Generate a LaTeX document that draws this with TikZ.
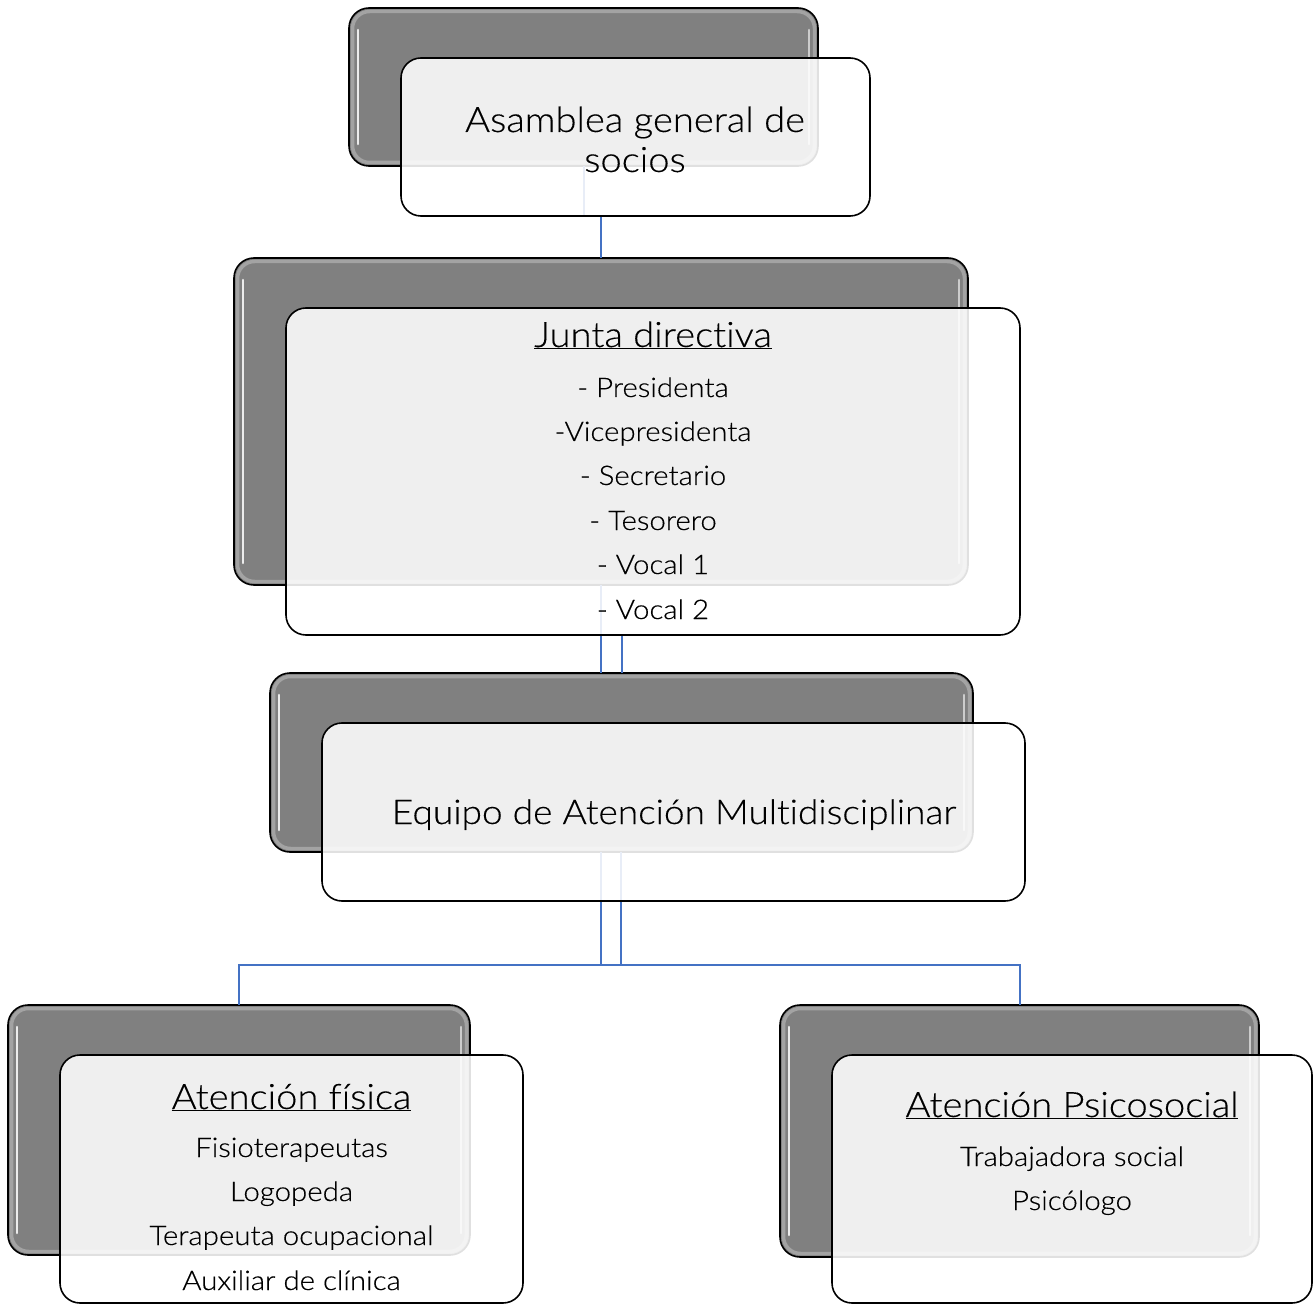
\documentclass[tikz,border=0pt]{standalone}
\usepackage{fontspec}
\setmainfont{Lato Light}[FakeStretch=1.09, FakeBold=0.3, Ligatures={NoCommon,NoContextual}, RawFeature={-liga;-dlig;-clig}]
\usetikzlibrary{calc}
\definecolor{linkblue}{RGB}{68,114,196}
\definecolor{backgray}{RGB}{128,128,128}
\tikzset{
  backbox/.style={draw=black, line width=1.6pt, fill=backgray, rounded corners=20pt, inner sep=0pt, outer sep=0pt, anchor=north west},
  frontbox/.style={draw=black, line width=1.6pt, fill=white, fill opacity=0.88, rounded corners=20pt, inner sep=0pt, outer sep=0pt, anchor=north west},
  bevelring/.style={draw=white, draw opacity=0.28, line width=3.5pt, rounded corners=17pt},
  shine/.style={draw=white, line width=2.6pt, line cap=round},
  link/.style={draw=linkblue, line width=2.2pt},
  titletext/.style={anchor=base, inner sep=0pt, font=\fontsize{35}{40}\selectfont},
  itemtext/.style={anchor=base, inner sep=0pt, font=\fontsize{27}{30}\selectfont},
}
\newcommand\backunit[5]{%
  \node[backbox, minimum width=#4pt, minimum height=#5pt] (#1B) at (#2,#3) {};
  \draw[bevelring] ($(#1B.north west)+(3.5,3.5)$) rectangle ($(#1B.south east)+(-3.5,-3.5)$);
  \draw[shine, draw opacity=0.85] ($(#1B.north west)+(9,22)$) -- ($(#1B.south west)+(9,-22)$);
  \draw[shine, draw opacity=0.6] ($(#1B.north east)+(-9,22)$) -- ($(#1B.south east)+(-9,-22)$);
}
\newcommand\frontunit[5]{%
  \node[frontbox, minimum width=#4pt, minimum height=#5pt] (#1F) at (#2,#3) {};
}
\begin{document}
\begin{tikzpicture}[x=1pt,y=-1pt]
\useasboundingbox (0,0) rectangle (1315,1305);
% back boxes
\backunit{asam}{349}{8}{469}{158}
\backunit{junta}{234}{258}{734}{327}
\backunit{equipo}{270}{673}{703}{179}
\backunit{fis}{8}{1005}{462}{250}
\backunit{psi}{780}{1005}{479}{252}
% connectors
\coordinate (split) at (0,965);
\draw[link] (asamB.south -| 584,0) -- (584,216) -- (601,216) -- (juntaB.north -| 601,0);
\draw[link] (juntaB.south -| 601,0) -- (equipoB.north -| 601,0);
\draw[link] (622,635) -- (equipoB.north -| 622,0);
\draw[link] (equipoB.south -| 601,0) -- (split -| 601,0) -| (fisB.north -| 239,0);
\draw[link] (equipoB.south -| 621,0) -- (split -| 621,0) -| (psiB.north -| 1020,0);
\draw[link] (split -| 600,0) -- (split -| 622,0);
% front boxes
\frontunit{asam}{401}{58}{469}{158}
\frontunit{junta}{286}{308}{734}{327}
\frontunit{equipo}{322}{723}{703}{178}
\frontunit{fis}{60}{1055}{463}{248}
\frontunit{psi}{832}{1055}{480}{248}
% texts
\node[titletext] (asamT1) at (635,132) {Asamblea general de};
\node[titletext] (asamT2) at (635,172) {socios};
\node[titletext] (juntaT) at (653,347) {\underline{Junta directiva}};
\node[itemtext] (juntaI1) at (653,397) {- Presidenta};
\node[itemtext] (juntaI2) at (653,441) {-Vicepresidenta};
\node[itemtext] (juntaI3) at (653,485) {- Secretario};
\node[itemtext] (juntaI4) at (653,530) {- Tesorero};
\node[itemtext] (juntaI5) at (653,574) {- Vocal 1};
\node[itemtext] (juntaI6) at (653,619) {- Vocal 2};
\node[titletext, font=\fontsize{34}{40}\selectfont] (equipoT) at (674,824) {Equipo de Atención Multidisciplinar};
\node[titletext] (fisT) at (291.5,1109) {\underline{Atención física}};
\node[itemtext] (fisI1) at (291.5,1157) {Fisioterapeutas};
\node[itemtext] (fisI2) at (291.5,1201) {Logopeda};
\node[itemtext] (fisI3) at (291.5,1245) {Terapeuta ocupacional};
\node[itemtext] (fisI4) at (291.5,1290) {Auxiliar de clínica};
\node[titletext] (psiT) at (1072,1117) {\underline{Atención Psicosocial}};
\node[itemtext] (psiI1) at (1072,1166) {Trabajadora social};
\node[itemtext] (psiI2) at (1072,1210) {Psicólogo};
\end{tikzpicture}
\end{document}
